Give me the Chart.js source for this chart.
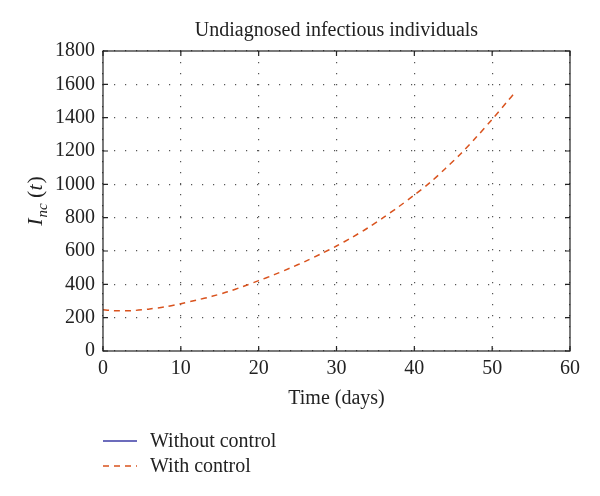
<!DOCTYPE html>
<html>
<head>
<meta charset="utf-8">
<script src="https://cdn.jsdelivr.net/npm/chart.js@4/dist/chart.umd.min.js"></script>
<style>
  html, body { margin: 0; padding: 0; background: #fff; }
  #wrap { width: 600px; height: 496px; }
</style>
</head>
<body>
<div id="wrap"><canvas id="infChart" width="600" height="496"></canvas></div>
<script>
// Zeitachse (Tage) und Werte
const days = [0, 1, 2, 3, 4, 5, 6, 8, 10, 12, 14, 16, 18, 20, 22, 24, 26, 28, 30,
              32, 34, 36, 38, 40, 42, 44, 46, 48, 50, 52, 53];
const withControl = [248, 243, 241, 241, 243, 247, 252, 265, 284, 305, 328, 355, 387, 422,
                     458, 497, 538, 583, 630, 682, 738, 800, 866, 936, 1010, 1095, 1185,
                     1285, 1390, 1500, 1555];
const withoutControl = [];
const seriesLabels = ["Without control", "With control"];
const xTicks = [0, 10, 20, 30, 40, 50, 60];
const yTicks = [0, 200, 400, 600, 800, 1000, 1200, 1400, 1600, 1800];

const serif = "'Liberation Serif', 'DejaVu Serif', serif";
const blue = "#3b3ba6";
const red = "#d9531e";

const toPoints = (xs, ys) => ys.map((v, i) => ({x: xs[i], y: v}));

// Rahmen, Innen-Ticks, Achsentitel und Legende
const decor = {
    id: "decor",
    afterDraw(chart) {
        const ctx = chart.ctx;
        const a = chart.chartArea;
        const xs = chart.scales.x;
        const ys = chart.scales.y;
        ctx.save();
        ctx.strokeStyle = "#222";
        ctx.lineWidth = 1.2;
        ctx.strokeRect(a.left, a.top, a.right - a.left, a.bottom - a.top);
        const tl = 5;
        ctx.beginPath();
        xTicks.forEach(t => {
            const px = xs.getPixelForValue(t);
            ctx.moveTo(px, a.bottom); ctx.lineTo(px, a.bottom - tl);
            ctx.moveTo(px, a.top); ctx.lineTo(px, a.top + tl);
        });
        yTicks.forEach(t => {
            const py = ys.getPixelForValue(t);
            ctx.moveTo(a.left, py); ctx.lineTo(a.left + tl, py);
            ctx.moveTo(a.right, py); ctx.lineTo(a.right - tl, py);
        });
        ctx.stroke();

        ctx.fillStyle = "#222";
        // Titel
        ctx.font = "20px " + serif;
        ctx.textAlign = "center";
        ctx.textBaseline = "alphabetic";
        ctx.fillText("Undiagnosed infectious individuals", (a.left + a.right) / 2, 36);
        // x-Achsentitel
        ctx.fillText("Time (days)", (a.left + a.right) / 2, 404);

        // y-Achsentitel I_nc(t)
        ctx.save();
        ctx.translate(42, (a.top + a.bottom) / 2);
        ctx.rotate(-Math.PI / 2);
        ctx.textAlign = "left";
        const big = 22, small = 15;
        ctx.font = "italic " + big + "px " + serif;
        const w1 = ctx.measureText("I").width + 1;
        ctx.font = "italic " + small + "px " + serif;
        const w2 = ctx.measureText("nc").width;
        ctx.font = big + "px " + serif;
        const w3 = ctx.measureText(" (").width;
        ctx.font = "italic " + big + "px " + serif;
        const w4 = ctx.measureText("t").width + 1;
        ctx.font = big + "px " + serif;
        const w5 = ctx.measureText(")").width;
        let x0 = -(w1 + w2 + w3 + w4 + w5) / 2;
        ctx.font = "italic " + big + "px " + serif;
        ctx.fillText("I", x0, 0); x0 += w1;
        ctx.font = "italic " + small + "px " + serif;
        ctx.fillText("nc", x0, 5); x0 += w2;
        ctx.font = big + "px " + serif;
        ctx.fillText(" (", x0, 0); x0 += w3;
        ctx.font = "italic " + big + "px " + serif;
        ctx.fillText("t", x0, 0); x0 += w4;
        ctx.font = big + "px " + serif;
        ctx.fillText(")", x0, 0);
        ctx.restore();

        // Legende
        const rows = [
            {label: seriesLabels[0], color: blue, dash: [], y: 441},
            {label: seriesLabels[1], color: red, dash: [6, 5], y: 466}
        ];
        ctx.font = "20px " + serif;
        ctx.textAlign = "left";
        ctx.textBaseline = "middle";
        rows.forEach(r => {
            ctx.strokeStyle = r.color;
            ctx.lineWidth = 1.5;
            ctx.setLineDash(r.dash);
            ctx.beginPath();
            ctx.moveTo(103, r.y); ctx.lineTo(137, r.y);
            ctx.stroke();
            ctx.setLineDash([]);
            ctx.fillStyle = "#222";
            ctx.fillText(r.label, 150, r.y + 1);
        });
        ctx.restore();
    }
};

new Chart(document.getElementById("infChart"), {
    type: "line",
    data: {
        datasets: [
            {
                label: seriesLabels[0],
                data: toPoints(days, withoutControl),
                borderColor: blue,
                borderWidth: 1.5,
                pointRadius: 0,
                fill: false
            },
            {
                label: seriesLabels[1],
                data: toPoints(days, withControl),
                borderColor: red,
                borderWidth: 1.5,
                borderDash: [6, 5],
                pointRadius: 0,
                tension: 0.3,
                fill: false
            }
        ]
    },
    options: {
        responsive: false,
        animation: false,
        layout: {padding: {left: 38, right: 30, top: 51, bottom: 115}},
        plugins: {
            legend: {display: false},
            tooltip: {enabled: false}
        },
        scales: {
            x: {
                type: "linear",
                min: 0,
                max: 60,
                afterFit: (s) => { s.height = 30; },
                afterBuildTicks: (s) => { s.ticks = xTicks.map(v => ({value: v})); },
                ticks: {
                    font: {family: serif, size: 20},
                    color: "#222",
                    padding: 6,
                    maxRotation: 0,
                    callback: (v) => String(v)
                },
                grid: {color: "#555", lineWidth: 1.2, drawTicks: false},
                border: {display: false, dash: [1.2, 9.8]}
            },
            y: {
                min: 0,
                max: 1800,
                afterFit: (s) => { s.width = 65; },
                afterBuildTicks: (s) => { s.ticks = yTicks.map(v => ({value: v})); },
                ticks: {
                    font: {family: serif, size: 20},
                    color: "#222",
                    padding: 8,
                    callback: (v) => String(v)
                },
                grid: {color: "#555", lineWidth: 1.2, drawTicks: false},
                border: {display: false, dash: [1.2, 9.8]}
            }
        }
    },
    plugins: [decor]
});
</script>
</body>
</html>
